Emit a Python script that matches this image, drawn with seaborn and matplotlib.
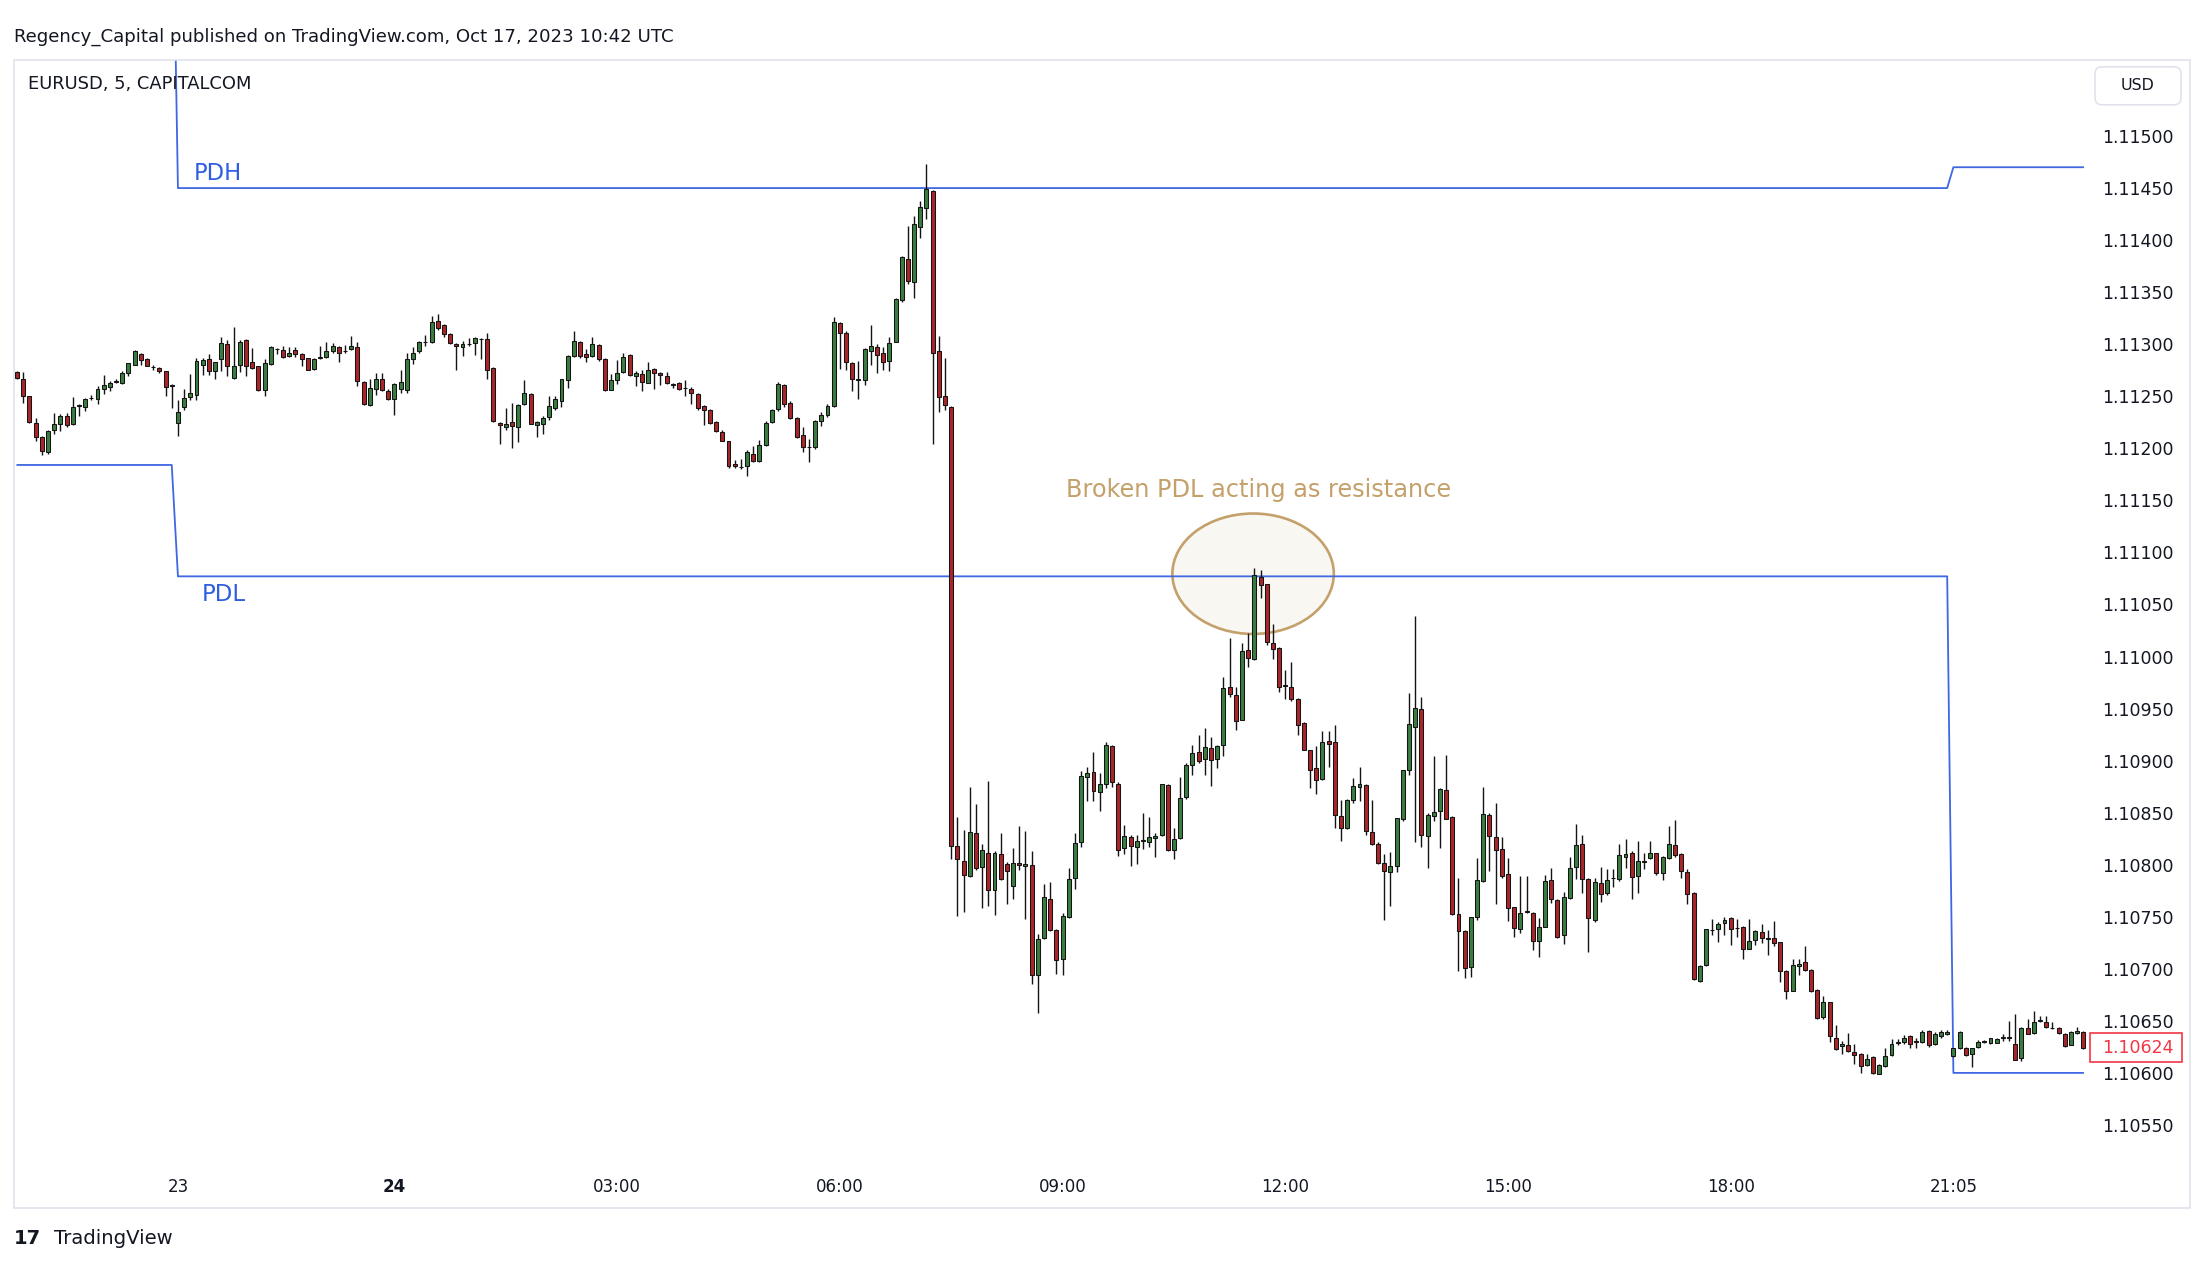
import numpy as np
import pandas as pd
import matplotlib
matplotlib.use("Agg")
import matplotlib.pyplot as plt
import matplotlib.transforms as mtransforms
from matplotlib.patches import Ellipse, Rectangle, FancyBboxPatch
import seaborn as sns

# ---------------- data (EURUSD 5-min candles, prices in units of 0.00001 above 1.10000) -------------
open_u = [
    1273,1267,1250,1224,1211,1196,1218,1223,1231,1223, 1241,1240,1248,1247,1257,1259,1264,1263,1272,1280,
    1291,1286,1278,1277,1274,1260,1224,1240,1249,1251, 1280,1286,1274,1286,1300,1268,1280,1304,1283,1279,
    1256,1281,1295,1294,1289,1294,1291,1287,1276,1287, 1288,1293,1297,1293,1295,1297,1264,1242,1257,1267,
    1255,1247,1257,1256,1286,1293,1302,1302,1322,1318, 1310,1300,1297,1300,1301,1305,1305,1277,1224,1220,
    1225,1220,1243,1252,1222,1223,1230,1239,1245,1266, 1289,1302,1291,1289,1299,1286,1256,1266,1273,1290,
    1269,1271,1263,1276,1272,1269,1261,1263,1258,1257, 1252,1241,1237,1225,1216,1207,1185,1182,1183,1195,
    1188,1203,1225,1238,1261,1244,1229,1213,1201,1201, 1226,1232,1241,1320,1311,1282,1266,1266,1293,1297,
    1292,1284,1302,1342,1382,1360,1413,1431,1447,1293, 1250,1240,818,804,789,830,798,811,776,810,
    801,780,802,799,800,694,730,767,737,709, 750,787,822,884,889,870,878,914,878,816,
    827,817,823,822,826,829,877,814,826,865, 896,908,902,912,902,915,971,963,939,1006,
    998,1076,1070,1013,1008,972,971,959,936,910, 893,882,919,918,847,835,862,875,877,831,
    820,802,793,799,844,891,932,950,828,847, 852,872,846,753,736,702,750,784,848,827,
    815,791,759,738,755,754,727,740,785,766, 732,768,798,820,786,747,782,773,787,786,
    807,811,789,803,806,811,792,806,819,810, 793,773,688,704,737,738,744,749,739,740,
    719,728,735,729,730,726,698,679,703,707, 699,680,654,668,634,626,627,620,618,608,
    615,599,607,617,629,630,635,630,630,640, 628,635,637,616,624,624,618,625,630,629,
    629,634,634,628,614,643,638,650,649,643, 643,637,627,638,639,
]
high_u = [
    1274,1273,1250,1229,1212,1218,1234,1233,1234,1249, 1243,1248,1251,1260,1270,1265,1267,1274,1282,1294,
    1292,1287,1280,1278,1274,1262,1246,1257,1271,1287, 1287,1291,1283,1307,1304,1317,1304,1305,1296,1279,
    1286,1298,1296,1298,1297,1297,1292,1287,1287,1298, 1302,1301,1298,1299,1308,1302,1265,1267,1272,1272,
    1257,1263,1275,1292,1297,1303,1309,1327,1329,1319, 1311,1301,1303,1306,1307,1306,1311,1278,1225,1239,
    1244,1243,1266,1253,1226,1231,1250,1250,1267,1290, 1313,1303,1295,1307,1300,1287,1271,1285,1292,1291,
    1274,1275,1283,1277,1273,1273,1263,1264,1266,1259, 1253,1242,1238,1226,1218,1207,1189,1190,1198,1202,
    1208,1226,1238,1264,1262,1245,1230,1220,1209,1227, 1235,1243,1326,1321,1313,1283,1284,1296,1318,1300,
    1297,1307,1344,1385,1414,1423,1438,1473,1448,1308, 1287,1241,846,833,875,858,820,880,813,830,
    803,816,837,832,813,733,781,783,738,754, 797,830,890,894,908,888,918,915,879,838,
    829,829,850,846,830,878,878,835,884,898, 915,925,931,923,915,980,1018,971,1013,1023,
    1085,1083,1070,1031,1009,987,995,960,937,910, 914,928,928,934,862,863,883,894,878,862,
    822,810,812,845,891,965,1039,961,850,904, 874,905,847,787,737,750,806,875,850,859,
    827,806,759,789,789,755,749,790,797,767, 774,807,839,829,787,787,798,796,796,820,
    825,813,823,811,823,811,808,837,843,811, 796,774,704,738,748,745,750,750,748,741,
    748,737,743,737,746,726,699,709,709,722, 700,681,674,668,646,631,638,628,619,618,
    616,609,624,633,633,636,636,634,641,641, 639,641,641,624,640,625,624,632,632,634,
    634,637,650,657,644,652,659,655,655,649, 644,638,640,644,640,
]
low_u = [
    1267,1244,1224,1207,1194,1195,1214,1217,1220,1222, 1231,1236,1246,1243,1252,1255,1263,1262,1269,1280,
    1280,1279,1275,1272,1250,1239,1212,1237,1246,1246, 1270,1270,1267,1274,1269,1267,1273,1269,1276,1255,
    1250,1280,1291,1287,1288,1288,1279,1275,1275,1286, 1287,1292,1283,1292,1294,1260,1242,1241,1251,1255,
    1246,1232,1253,1253,1281,1292,1298,1301,1314,1307, 1300,1275,1289,1298,1290,1286,1267,1225,1204,1218,
    1200,1206,1242,1223,1211,1214,1227,1237,1240,1258, 1288,1287,1283,1288,1284,1255,1256,1262,1272,1269,
    1260,1255,1263,1257,1261,1262,1258,1256,1250,1243, 1237,1222,1223,1216,1207,1181,1181,1180,1173,1187,
    1187,1202,1224,1236,1240,1228,1210,1196,1187,1199, 1221,1230,1240,1276,1275,1255,1247,1261,1280,1272,
    1275,1274,1302,1341,1358,1344,1402,1420,1204,1235, 1237,805,751,755,788,795,758,760,752,785,
    762,767,795,748,685,658,729,736,695,694, 749,777,817,861,861,852,874,875,808,810,
    799,801,815,817,807,828,813,805,825,863, 886,898,886,876,893,904,961,929,939,990,
    997,1056,1011,998,966,959,957,925,910,874, 868,881,894,835,823,834,859,861,829,819,
    801,747,760,793,842,886,822,817,797,842, 816,844,752,698,691,692,747,783,794,762,
    787,746,731,734,754,718,711,740,763,730, 724,767,786,773,716,745,764,771,779,784,
    797,767,773,796,805,790,785,805,807,787, 762,689,687,703,732,726,732,723,731,709,
    719,723,725,713,722,687,671,679,694,698, 678,652,652,630,622,618,620,609,600,607,
    599,599,606,616,627,628,624,624,629,625, 627,634,636,615,623,616,606,624,629,628,
    629,631,631,612,611,637,637,649,643,642, 637,625,627,637,623,
]
close_u = [
    1268,1250,1225,1211,1197,1217,1223,1231,1222,1240, 1241,1247,1248,1257,1261,1263,1264,1272,1282,1293,
    1285,1279,1278,1274,1259,1260,1235,1248,1253,1284, 1285,1274,1283,1301,1279,1279,1302,1279,1277,1256,
    1282,1297,1295,1288,1292,1291,1286,1275,1286,1287, 1293,1298,1292,1293,1298,1265,1243,1258,1267,1256,
    1247,1262,1264,1286,1292,1302,1302,1321,1316,1310, 1301,1298,1300,1300,1306,1305,1275,1226,1222,1223,
    1221,1242,1253,1223,1225,1229,1241,1247,1267,1289, 1303,1289,1288,1300,1286,1256,1266,1272,1288,1270,
    1272,1264,1275,1272,1270,1263,1261,1257,1258,1253, 1239,1237,1224,1217,1207,1183,1183,1182,1196,1188,
    1203,1224,1237,1262,1243,1229,1211,1201,1201,1226, 1232,1241,1321,1311,1283,1267,1266,1295,1298,1290,
    1283,1301,1343,1384,1361,1415,1432,1449,1292,1249, 1242,818,805,790,831,797,814,776,811,786,
    794,802,800,801,694,729,769,737,708,751, 786,821,885,888,871,878,915,879,814,828,
    818,823,823,827,828,878,814,825,864,896, 907,900,913,901,914,970,964,938,1005,999,
    1078,1069,1014,1007,971,972,959,934,910,891, 881,918,916,848,835,862,876,878,832,820,
    802,794,799,845,891,935,951,829,848,851, 873,844,753,736,701,750,785,849,828,814,
    789,758,739,754,755,727,740,784,767,731, 769,797,819,786,749,783,772,785,787,809,
    810,788,804,804,811,792,807,820,809,794, 772,690,703,738,737,743,747,738,739,719,
    727,736,730,729,725,698,679,704,705,699, 679,653,668,635,623,628,621,617,607,613,
    600,608,616,628,629,634,628,630,639,627, 637,639,639,624,639,617,624,630,630,634,
    633,634,634,612,643,637,649,650,644,643, 638,626,639,640,624,
]
PRICE_BASE = 1.10
PRICE_UNIT = 1e-5

time_tick_bars = [26, 61, 97, 133, 169, 205, 241, 277, 313]
time_tick_labels = ["23", "24", "03:00", "06:00", "09:00", "12:00", "15:00", "18:00", "21:05"]
bold_time_labels = ["24"]

price_tick_labels = ["1.10550", "1.10600", "1.10650", "1.10700", "1.10750", "1.10800", "1.10850",
                     "1.10900", "1.10950", "1.11000", "1.11050", "1.11100", "1.11150", "1.11200",
                     "1.11250", "1.11300", "1.11350", "1.11400", "1.11450", "1.11500"]

session_start_bars = [26, 313]
pdh_levels = [1.11800, 1.11450, 1.11470]
pdl_levels = [1.11184, 1.11077, 1.10600]

# ---------------- styling ----------------
GREEN = "#3a7d40"
RED = "#a8262a"
WICK = "#141414"
BLUE = "#3f67e2"
TAN = "#c4a06a"
TEXT = "#131722"
LAST = "#f23645"

sns.set_theme(style="white")
plt.rcParams["font.family"] = ["DejaVu Sans"]

W_PX, H_PX = 2200, 1278
fig = plt.figure(figsize=(W_PX / 100, H_PX / 100), dpi=100)
fig.patch.set_facecolor("white")

ax_left, ax_right, ax_top, ax_bottom = 14, 2087, 59.5, 1164.5
ax = fig.add_axes([ax_left / W_PX, 1 - ax_bottom / H_PX,
                   (ax_right - ax_left) / W_PX, (ax_bottom - ax_top) / H_PX])
ax.set_facecolor("white")

o = PRICE_BASE + np.array(open_u) * PRICE_UNIT
h = PRICE_BASE + np.array(high_u) * PRICE_UNIT
l = PRICE_BASE + np.array(low_u) * PRICE_UNIT
c = PRICE_BASE + np.array(close_u) * PRICE_UNIT
n = len(c)
x = np.arange(n)

seg = np.searchsorted(session_start_bars, x, side="right")
df = pd.DataFrame({"bar": x,
                   "PDH": np.array(pdh_levels)[seg],
                   "PDL": np.array(pdl_levels)[seg]})

# annotation ellipse (behind everything)
ell = Ellipse((199.8, 1.110795), width=26.1, height=0.001157,
              facecolor="#f9f7f2", edgecolor=TAN, linewidth=1.9, zorder=1)
ax.add_patch(ell)

# previous day high / low lines
sns.lineplot(data=df, x="bar", y="PDH", ax=ax, color=BLUE, linewidth=1.3, zorder=2)
sns.lineplot(data=df, x="bar", y="PDL", ax=ax, color=BLUE, linewidth=1.3, zorder=2)

# candles
up = c >= o
body_lo = np.minimum(o, c)
body_h = np.maximum(np.abs(c - o), 0.35 * PRICE_UNIT)
ax.vlines(x, l, h, color=WICK, linewidth=1.0, zorder=3)
ax.bar(x[up], body_h[up], bottom=body_lo[up], width=0.64, color=GREEN,
       edgecolor=WICK, linewidth=0.75, zorder=4)
ax.bar(x[~up], body_h[~up], bottom=body_lo[~up], width=0.64, color=RED,
       edgecolor=WICK, linewidth=0.75, zorder=4)

ax.set_xlim(-0.5, 334.6)
ax.set_ylim(1.10512, 1.115735)
ax.set_xlabel("")
ax.set_ylabel("")
for s in ax.spines.values():
    s.set_visible(False)
ax.grid(False)

ax.set_xticks(time_tick_bars)
ax.set_xticklabels(time_tick_labels)
for t in ax.get_xticklabels():
    t.set_color(TEXT)
    t.set_fontsize(12)
    if t.get_text() in bold_time_labels:
        t.set_fontweight("bold")
ax.tick_params(axis="x", length=0, pad=10)

ax.yaxis.tick_right()
ax.set_yticks([float(v) for v in price_tick_labels])
ax.set_yticklabels(price_tick_labels)
ax.tick_params(axis="y", length=0, pad=11, labelsize=12.5, labelcolor=TEXT)

# text annotations
t_pdh = ax.annotate("PDH", xy=(28.6, pdh_levels[1]), xytext=(0, 2), textcoords="offset points",
                    ha="left", va="bottom", color="#2f5ee0", fontsize=16, zorder=5)
t_pdl = ax.annotate("PDL", xy=(29.8, pdl_levels[1]), xytext=(0, -5), textcoords="offset points",
                    ha="left", va="top", color="#2f5ee0", fontsize=16, zorder=5)
t_note = ax.text(200.7, 1.11160, "Broken PDL acting as resistance", ha="center", va="center",
                 color=TAN, fontsize=15, zorder=5)

t_head = fig.text(14 / W_PX, 1 - 37 / H_PX,
                  "Regency_Capital published on TradingView.com, Oct 17, 2023 10:42 UTC",
                  ha="left", va="center", color=TEXT, fontsize=12.4)
t_sym = fig.text(28 / W_PX, 1 - 84 / H_PX, "EURUSD, 5, CAPITALCOM",
                 ha="left", va="center", color=TEXT, fontsize=11)
t_logo = fig.text(14 / W_PX, 1 - 1239 / H_PX, "17", ha="left", va="center",
                  color=TEXT, fontsize=14, fontweight="bold")
t_tv = fig.text(54 / W_PX, 1 - 1239 / H_PX, "TradingView", ha="left", va="center",
                color=TEXT, fontsize=12.5)

# chart frame
fig.add_artist(Rectangle((14, H_PX - 1208), 2190 - 14, 1208 - 59.5,
                         transform=mtransforms.IdentityTransform(),
                         fill=False, edgecolor="#e0e3eb", linewidth=1.2))

# USD box
fig.add_artist(FancyBboxPatch((2095, H_PX - 104.8), 86, 38,
                              boxstyle="round,pad=0,rounding_size=7",
                              transform=mtransforms.IdentityTransform(),
                              facecolor="white", edgecolor="#e0e3eb", linewidth=1.2))
t_usd = fig.text(2138 / W_PX, 1 - 86 / H_PX, "USD", ha="center", va="center",
                 color=TEXT, fontsize=11)

# last price label (box + text above the axes)
fig.canvas.draw()
last_y = ax.transData.transform((0, c[-1]))[1]
box = Rectangle((2089.5, last_y - 14.5), 92, 29,
                transform=mtransforms.IdentityTransform(),
                facecolor="white", edgecolor=LAST, linewidth=1.2)
box.set_zorder(10)
fig.add_artist(box)
t_last = fig.text(2102 / W_PX, last_y / H_PX, f"{c[-1]:.5f}", ha="left", va="center",
                  color=LAST, fontsize=12.5)
t_last.set_zorder(11)

# fit text widths to the reference
r = fig.canvas.get_renderer()
def fit(t, target_px):
    w = t.get_window_extent(r).width
    if w > 0:
        t.set_fontsize(t.get_fontsize() * target_px / w)

fit(t_head, 663)
fit(t_sym, 224)
fit(t_pdh, 48)
fit(t_pdl, 44)
fit(t_note, 385)
fit(t_tv, 120)
fit(t_usd, 34)

fig.savefig("out.png", dpi=100, facecolor="white")
